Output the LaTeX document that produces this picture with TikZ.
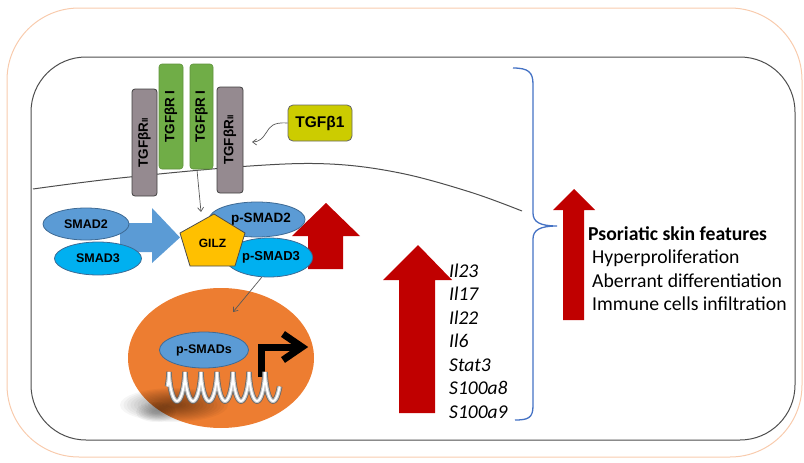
\documentclass[tikz,border=0pt]{standalone}
\usepackage{fontspec}
\setmainfont{Carlito}
\newfontfamily\arialfam{Liberation Sans}
\usetikzlibrary{shapes.geometric,arrows.meta}

\definecolor{frameorange}{HTML}{F8CBAD}
\definecolor{cellline}{HTML}{4D4D4D}
\definecolor{rIIgray}{HTML}{958A90}
\definecolor{rIgreen}{HTML}{70AD47}
\definecolor{ligand}{HTML}{CCCC00}
\definecolor{smadblue}{HTML}{5B9BD5}
\definecolor{smadedge}{HTML}{3E6A94}
\definecolor{smadcyan}{HTML}{00B0F0}
\definecolor{gilzgold}{HTML}{FFC000}
\definecolor{upred}{HTML}{C00000}
\definecolor{nucorange}{HTML}{ED7D31}
\definecolor{bracket}{HTML}{4472C4}

\newcommand\lblfont[1]{\arialfam\bfseries\fontsize{#1}{#1}\selectfont}

\tikzset{
  recII/.style={draw=black!75, fill=rIIgray, rounded corners=3pt, line width=0.8pt,
    rotate=90, inner sep=0pt, font=\lblfont{13.5}},
  recI/.style={draw=rIgreen!85!black, fill=rIgreen, rounded corners=3pt, line width=0.6pt,
    rotate=90, inner sep=0pt, font=\lblfont{13.5}},
  smad/.style={ellipse, draw=smadedge, line width=0.8pt, inner sep=0pt, font=\lblfont{12.5}},
  thinarrow/.style={draw=black!65, line width=0.7pt, -{Straight Barb[length=4pt,width=6pt]}},
  gene/.style={anchor=base west, font=\itshape\fontsize{19.5}{23.5}\selectfont, inner sep=0pt},
  feature/.style={anchor=base west, font=\fontsize{19.7}{23.5}\selectfont, inner sep=0pt},
}

\begin{document}
\begin{tikzpicture}[x=1pt,y=-1pt]
\useasboundingbox (0,0) rectangle (804,463);

% outer frame and cell outline
\draw[frameorange, line width=1pt, rounded corners=72pt] (7,8) rectangle (802,457);
\draw[cellline, line width=1pt, rounded corners=55pt] (31,57) rectangle (795,440);

% plasma membrane
\draw[cellline, line width=1pt] plot[smooth, tension=0.6] coordinates
  {(33,189) (120,178) (250,166) (330,164) (400,173) (470,192) (522,211)};

% receptors
\node[recII, minimum width=107pt, minimum height=25pt] (r2a) at (144.5,142.5) {TGFβR{\fontsize{8.5}{8.5}\selectfont II}};
\node[recI, minimum width=105pt, minimum height=24pt] (r1a) at (171,116.5) {TGFβR I};
\node[recI, minimum width=105pt, minimum height=23pt] (r1b) at (201.5,116.5) {TGFβR I};
\node[recII, minimum width=106pt, minimum height=26pt] (r2b) at (230,140) {TGFβR{\fontsize{8.5}{8.5}\selectfont II}};

% ligand
\node[draw=black!60, fill=ligand, rounded corners=5pt, line width=0.8pt,
  minimum width=64pt, minimum height=36pt, inner sep=0pt, font=\lblfont{15.5}] (tgf) at (320,123) {TGFβ1};
\coordinate (rcpt) at (252,142);
\draw[thinarrow] (tgf.west) .. controls (272,122) and (270,127) .. (266,133)
  .. controls (263,138) and (259,142) .. (rcpt);

% signal to GILZ
\coordinate (sigstart) at (197,170);
\coordinate (gilztop) at (201,212);
\draw[thinarrow] (sigstart) -- (gilztop);

% activation arrow
\fill[smadblue] (120,223) -- (152,223) -- (152,208) -- (180,237.5) -- (152,263) -- (152,252) -- (120,252) -- cycle;

% SMADs
\node[smad, fill=smadblue, minimum width=86pt, minimum height=32pt] (smad2) at (86,224) {SMAD2};
\node[smad, fill=smadcyan, minimum width=87pt, minimum height=33pt] (smad3) at (98,258.5) {SMAD3};

% small up arrow
\fill[upred] (308,269) -- (308,236) -- (292,236) -- (326,203) -- (360,236) -- (343,236) -- (343,269) -- cycle;

% phosphorylated SMADs and GILZ
\node[smad, fill=smadblue, minimum width=86pt, minimum height=35pt, font=\lblfont{13.5}] (psmad2) at (257,219.5) {\hspace*{8pt}p-SMAD2};
\node[smad, fill=smadcyan, minimum width=78pt, minimum height=39pt, font=\lblfont{13}] (psmad3) at (269,257.5) {\hspace*{4pt}p-SMAD3};
\draw[draw=black!70, fill=gilzgold, line width=0.8pt]
  (214,214) -- (245,233) -- (235,266) -- (190,266) -- (180,233) -- cycle;
\node[font=\lblfont{12}] (gilz) at (212.5,243) {GILZ};

% nucleus
\node[ellipse, fill=nucorange, minimum width=186pt, minimum height=140pt, inner sep=0pt] (nucleus) at (221,358) {};
\coordinate (nucin) at (233,312);
\draw[thinarrow] (psmad3.250) -- (nucin);

\node[smad, fill=smadblue, minimum width=89pt, minimum height=36pt] (psmads) at (204,350) {p-SMADs};

% transcription start
\draw[line width=7pt, line join=miter] (261.5,377) -- (261.5,347) -- (298,347);
\draw[line width=7pt, line join=miter, miter limit=10] (283,334) -- (302,347) -- (283,360);

% soft shadow under the DNA
\foreach \k in {0,...,13}
  \fill[black, opacity=0.035] (174,405) ellipse ({54-3.5*\k} and {17-1.1*\k});
\foreach \k in {0,...,6}
  \fill[black, opacity=0.04] (156,412) ellipse ({20-2.5*\k} and {10-1.3*\k});

% DNA coil
\foreach \c/\w in {black!60/5.6pt, black!22/4pt, white/1.8pt}
  \draw[\c, line width=\w] plot[domain=0:2520, samples=400]
    ({165 + \x/360*16 + 2.6*cos(\x)}, {386.5 - 14.5*sin(\x)});

% induced genes
\fill[upred] (399,413) -- (399,280) -- (383,280) -- (418,245) -- (452,280) -- (435,280) -- (435,413) -- cycle;
\foreach \g [count=\i from 0] in {Il23,Il17,Il22,Il6,Stat3,S100a8,S100a9}
  \node[gene] (gene\i) at (449,{277+23.5*\i}) {\g};

% bracket
\draw[bracket, line width=1.3pt]
  (513,68) .. controls (528,68) and (533,72) .. (533,84) -- (533,213)
  .. controls (533,222) and (540,226) .. (557,226)
  .. controls (540,226) and (533,230) .. (533,239) -- (533,406)
  .. controls (533,418) and (528,420) .. (515,420);

% skin features
\fill[upred] (563,320) -- (563,210) -- (553,210) -- (574,189) -- (595,210) -- (584,210) -- (584,320) -- cycle;
\node[feature, font=\bfseries\fontsize{19.7}{23.5}\selectfont] (psor) at (588,240) {Psoriatic skin features};
\node[feature] (hyper) at (592,263.5) {Hyperproliferation};
\node[feature] (aberr) at (592,287) {Aberrant differentiation};
\node[feature] (immune) at (592,310.5) {Immune cells infiltration};
\end{tikzpicture}
\end{document}
